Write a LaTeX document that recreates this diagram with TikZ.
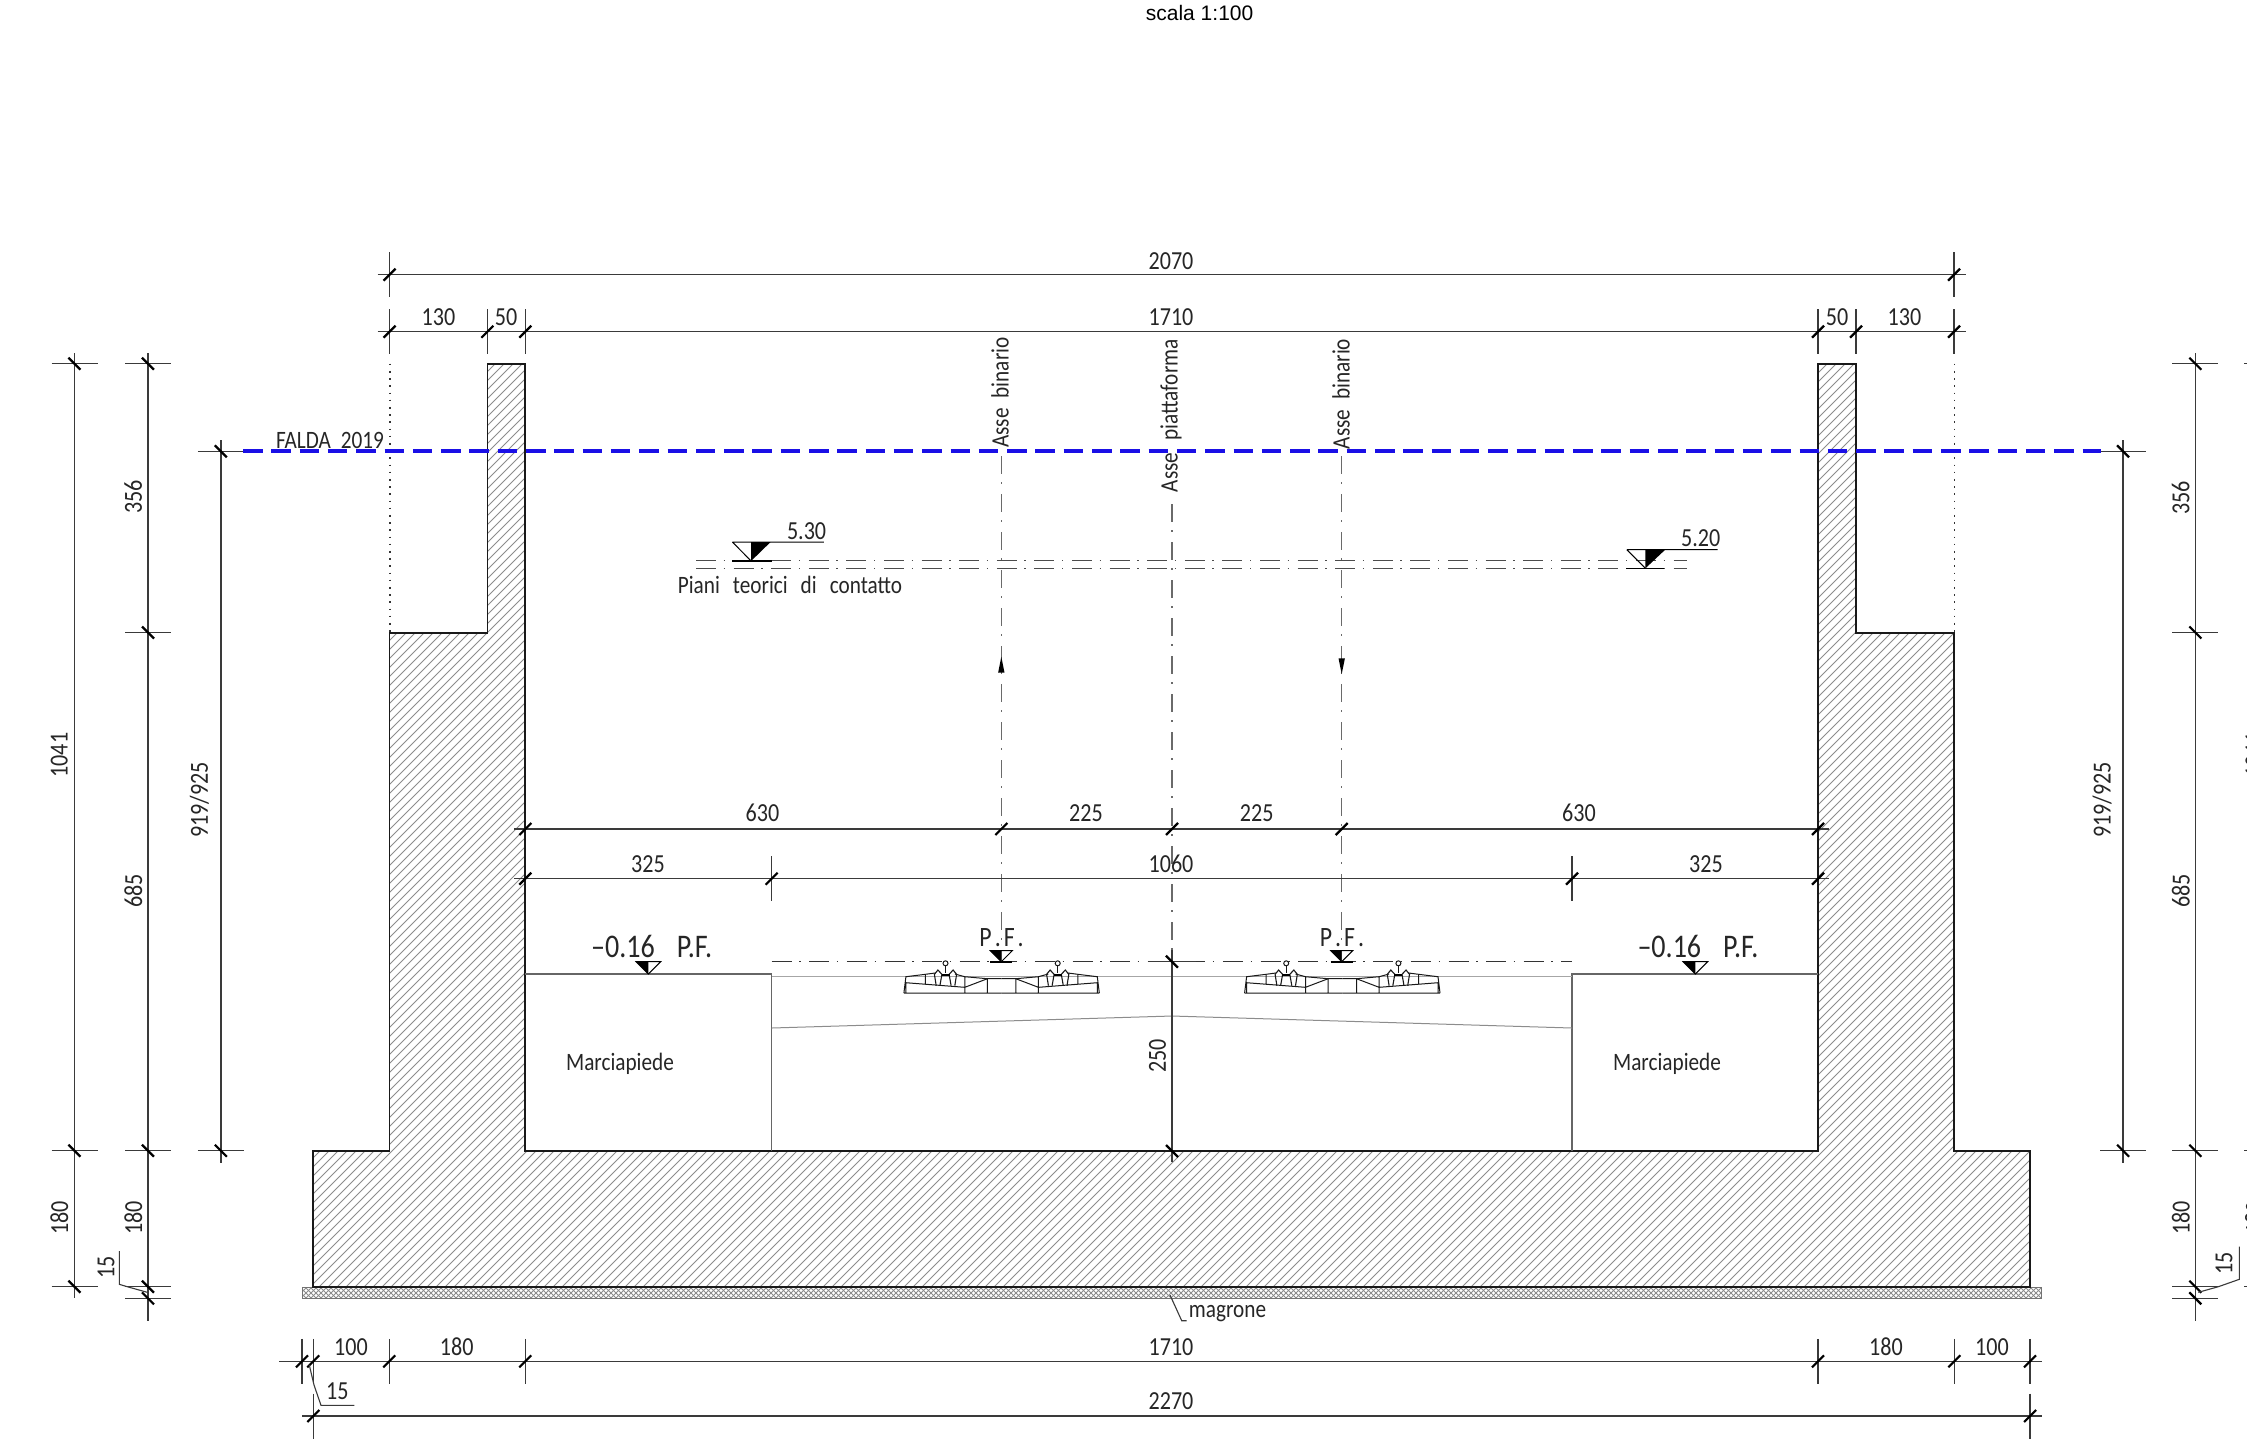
\documentclass[tikz,border=0pt]{standalone}
\usepackage{fontspec}
\setmainfont{Liberation Sans}
\newfontfamily\cad[FakeStretch=0.85]{Carlito}
\definecolor{dimc}{HTML}{3A3A3A}
\definecolor{axisc}{HTML}{6A6A6A}
\definecolor{hatchc}{HTML}{8C8C8C}
\definecolor{bluec}{HTML}{1A0FE6}
\tikzset{
  dimtxt/.style={inner sep=0pt,font=\cad\fontsize{13}{15}\selectfont,text=black!85},
  pftxt/.style={inner sep=0pt,font=\cad\fontsize{14}{15}\selectfont,text=black!85},
  bigtxt/.style={inner sep=0pt,font=\cad\fontsize{16.5}{18}\selectfont,text=black!85},
  smalltxt/.style={inner sep=0pt,font=\cad\fontsize{12.5}{15}\selectfont,text=black!85},
  dimline/.style={draw=dimc,line width=0.7pt},
  extline/.style={draw=dimc,line width=0.55pt},
  tickline/.style={draw=black,line width=1.1pt},
  outline/.style={draw=black!90,line width=0.9pt,line join=miter},
  axisline/.style={draw=axisc,line width=0.7pt,dash pattern=on 9pt off 4.2pt on 0.7pt off 5.1pt},
  planeline/.style={draw=black!70,line width=0.5pt,dash pattern=on 10pt off 3.8pt on 0.7pt off 4.3pt},
  railline/.style={draw=black!90,line width=0.5pt},
}
% horizontal dimension: tick plus extension
\newcommand\hdx[2]{\draw[extline] (#1,#2-22.5)--(#1,#2+22.5);\draw[tickline] (#1-6,#2+6)--(#1+6,#2-6);}
\newcommand\hdt[2]{\draw[tickline] (#1-6,#2+6)--(#1+6,#2-6);}
% vertical dimension: tick plus extension
\newcommand\vdx[2]{\draw[extline] (#1-23,#2)--(#1+23,#2);\draw[tickline] (#1-6,#2-6)--(#1+6,#2+6);}
\newcommand\pftext{P\hspace{1.5pt}.\hspace{1.5pt}F\hspace{1.5pt}.}
\newcommand\railhalf{%
  \draw[railline] (-97.7,0)--(-95.7,-16.3)--(-76.3,-18.7)--(-66.4,-20)
    (-46.7,-19)--(-36.8,-16.3)--(-14.2,-14.3)--(0,-14.3)
    (-95.7,-10.3)--(-36.8,-5.7)--(-14.2,-14.3)
    (-76.3,-18.7)--(-76.3,-8.7)
    (-36.8,-16.3)--(-36.8,0) (-14.2,-14.3)--(-14.2,0)
    (-95.7,-10.3)--(-95.7,0) (0,0)--(-97.7,0);
  \draw[railline] (-56.1,-29.7) circle (2.5);
  \draw[railline] (-56.1,-27)--(-56.1,-20);
  \draw[railline,line width=0.55pt] (-65.4,-7.3)--(-67.2,-18.7)--(-63.7,-23)--(-59.7,-18.7)--(-61.7,-7.3)
    (-46.8,-7.3)--(-45,-18.7)--(-48.5,-23)--(-52.5,-18.7)--(-50.5,-7.3);
  \draw[draw=black,line width=1pt] (-60,-18.5)--(-52,-18.5);
}
\newcommand\railpair[1]{%
  \begin{scope}[shift={(#1,993)}]\railhalf\end{scope}
  \begin{scope}[shift={(#1,993)},xscale=-1]\railhalf\end{scope}
}
\begin{document}
\begin{tikzpicture}[x=0.5pt,y=-0.5pt]
\useasboundingbox (0,0) rectangle (2247,1452);
\clip (0,0) rectangle (2247,1452);
\fill[white] (0,0) rectangle (2247,1452);

% hatching of the concrete section
\begin{scope}
  \clip (313.3,1286.7)--(313.3,1150.7)--(389.5,1150.7)--(389.5,633)--(487.4,633)--(487.4,363.7)--(525.3,363.7)--(525.3,1150.7)--(1818,1150.7)--(1818,363.7)--(1856,363.7)--(1856,633)--(1954,633)--(1954,1150.7)--(2030,1150.7)--(2030,1286.7)--cycle;
  \foreach \i in {-620,-611,...,2040}{\draw[hatchc,line width=0.4pt] (\i,1290)--(\i+930,360);}
\end{scope}
% magrone
\begin{scope}
  \clip (302,1287) rectangle (2041.5,1298.5);
  \foreach \i in {290,295,...,2050}{\draw[black!45,line width=0.4pt] (\i,1299)--(\i+12,1287) (\i,1287)--(\i+12,1299);}
\end{scope}
\draw[draw=black!55,line width=0.5pt] (302,1287) rectangle (2041.5,1298.5);

% section outline
\draw[outline] (313.3,1286.7)--(313.3,1150.7)--(389.5,1150.7)--(389.5,633)--(487.4,633)--(487.4,363.7)--(525.3,363.7)--(525.3,1150.7)--(1818,1150.7)--(1818,363.7)--(1856,363.7)--(1856,633)--(1954,633)--(1954,1150.7)--(2030,1150.7)--(2030,1286.7)--cycle;

% dotted outlines of upper stage
\draw[draw=black!80,line width=0.6pt,dash pattern=on 0.8pt off 2.8pt] (390,363.7)--(390,633);
\draw[draw=black!80,line width=0.6pt,dash pattern=on 0.8pt off 2.8pt] (1954.5,363.7)--(1954.5,633);

% pavements and slab lines
\draw[draw=black!60,line width=0.6pt] (525.3,974)--(771.7,974)--(771.7,1150.7);
\draw[draw=black!60,line width=0.6pt] (1818,974)--(1572,974)--(1572,1150.7);
\draw[draw=black!35,line width=0.5pt] (771.7,976.3)--(1572,976.3);
\draw[draw=black!45,line width=0.5pt] (771.7,1028)--(1172,1016)--(1572,1028);

% rails
\railpair{1001.6}
\railpair{1342.3}

% axes
\draw[axisline] (1001.3,456)--(1001.3,961);
\draw[axisline] (1341.7,456)--(1341.7,961);
\draw[axisline] (1172,504)--(1172,950);
\fill[black] (1001.3,656.7)--(1004.5,672.7)--(998.1,672.7)--cycle;
\fill[black] (1341.7,674)--(1344.9,658.3)--(1338.5,658.3)--cycle;

% theoretical planes
\draw[planeline] (696,560.7)--(1687,560.7);
\draw[planeline] (696,568.5)--(1687,568.5);
\draw[draw=black,line width=0.5pt] (732.4,542)--(823.8,542) (732.4,542)--(751.1,561);
\fill[black] (751.1,542)--(770.6,542)--(751.1,561)--cycle;
\draw[draw=black,line width=0.8pt] (732,561)--(772,561);
\draw[draw=black,line width=0.5pt] (1626.8,549.7)--(1717.6,549.7) (1626.8,549.7)--(1645.4,568.3);
\fill[black] (1645.4,549.7)--(1665.2,549.7)--(1645.4,568.3)--cycle;
\draw[draw=black,line width=0.8pt] (1626,568.5)--(1664,568.5);
\node[dimtxt] (lev530) at (806.6,531) {5.30};
\node[dimtxt] (lev520) at (1700.7,538.3) {5.20};
\node[smalltxt] (piani) at (790,585) {Piani\hspace{6.5pt}teorici\hspace{6.5pt}di\hspace{6.5pt}contatto};

% dimension chains, top
\draw[dimline] (377.5,274.7)--(1966,274.7);
\hdx{389.5}{274.7}\hdx{1954}{274.7}
\draw[dimline] (377.5,331.7)--(1966,331.7);
\hdx{389.5}{331.7}\hdx{487.4}{331.7}\hdx{525.3}{331.7}\hdx{1818}{331.7}\hdx{1856}{331.7}\hdx{1954}{331.7}
\node[dimtxt] (d2070) at (1171,261) {2070};
\node[dimtxt] (d130a) at (438.5,317) {130};
\node[dimtxt] (d50a) at (506,317) {50};
\node[dimtxt] (d1710a) at (1171,317) {1710};
\node[dimtxt] (d50b) at (1837,317) {50};
\node[dimtxt] (d130b) at (1904.5,317) {130};

% inner chains
\draw[dimline] (514,829)--(1829,829);
\hdt{525.3}{829}\hdt{1001.3}{829}\hdt{1172}{829}\hdt{1341.7}{829}\hdt{1818}{829}
\draw[dimline] (514,878.7)--(1829,878.7);
\hdt{525.3}{878.7}\hdx{771.7}{878.7}\hdx{1572}{878.7}\hdt{1818}{878.7}
\node[dimtxt] (d630a) at (762.4,813) {630};
\node[dimtxt] (d225a) at (1086,813) {225};
\node[dimtxt] (d225b) at (1256.7,813) {225};
\node[dimtxt] (d630b) at (1579,813) {630};
\node[dimtxt] (d325a) at (648,864) {325};
\node[dimtxt] (d1060) at (1171,864) {1060};
\node[dimtxt] (d325b) at (1706,864) {325};

% rail level line and marks
\draw[planeline,draw=black!80,line width=0.55pt] (771.7,961.7)--(1572,961.7);
\draw[dimline] (1148,961.7)--(1196,961.7);
\draw[dimline] (1172,950)--(1172,1162);
\draw[tickline] (1166,955.7)--(1178,967.7);
\draw[tickline] (1166,1145)--(1178,1157);
\node[dimtxt,rotate=90] (d250) at (1157.4,1056) {250};
\foreach \px in {1001.3,1341.7}{
  \draw[draw=black,line width=0.5pt] (\px-11,950.7)--(\px+11,950.7)--(\px,961.7)--cycle;
  \fill[black] (\px-11,950.7)--(\px,950.7)--(\px,961.7)--cycle;
  \draw[draw=black,line width=0.9pt] (\px-11,961.7)--(\px+11,961.7);
}
\node[pftxt] (pfa) at (1001.6,938) {\pftext};
\node[pftxt] (pfb) at (1342,938) {\pftext};
\foreach \px in {648.3,1695.3}{
  \draw[draw=black,line width=0.5pt] (\px-12.3,961.7)--(\px+12.3,961.7)--(\px,974)--cycle;
  \fill[black] (\px-12.3,961.7)--(\px,961.7)--(\px,974)--cycle;
}
\node[bigtxt] (lv1) at (651.7,946) {\textendash 0.16\hspace{11pt}P.F.};
\node[bigtxt] (lv2) at (1698,946) {\textendash 0.16\hspace{11pt}P.F.};
\node[smalltxt] (marc1) at (620,1063.5) {Marciapiede};
\node[smalltxt] (marc2) at (1667,1063.5) {Marciapiede};

% bottom chains
\draw[dimline] (279.3,1361.3)--(2041.7,1361.3);
\hdx{302}{1361.3}\hdx{313.3}{1361.3}\hdx{389.3}{1361.3}\hdx{525.3}{1361.3}\hdx{1818}{1361.3}\hdx{1954.3}{1361.3}\hdx{2030}{1361.3}
\draw[dimline] (302,1416)--(2041.7,1416);
\hdx{313.3}{1416}\hdx{2030}{1416}
\node[dimtxt] (b100a) at (351,1347) {100};
\node[dimtxt] (b180a) at (456.7,1347) {180};
\node[dimtxt] (b1710) at (1171,1347) {1710};
\node[dimtxt] (b180b) at (1886,1347) {180};
\node[dimtxt] (b100b) at (1992,1347) {100};
\node[dimtxt] (b2270) at (1171,1401.5) {2270};
\node[dimtxt] (b15) at (337.3,1390.7) {15};
\draw[extline] (309.3,1365)--(314,1385)--(321,1405.3)--(354.3,1405.3);

% magrone label
\draw[extline] (1170,1295)--(1181.7,1320.7)--(1186.7,1320.7);
\node[smalltxt] (magrone) at (1227.5,1313.5) {magrone};

% left vertical chains
\draw[dimline] (74.5,353)--(74.5,1298);
\vdx{74.5}{363.7}\vdx{74.5}{1150.7}\vdx{74.5}{1286.7}
\draw[dimline] (148,353)--(148,1321);
\vdx{148}{363.7}\vdx{148}{632.5}\vdx{148}{1150.7}\vdx{148}{1286.7}\vdx{148}{1298.3}
\draw[dimline] (220.8,440)--(220.8,1162.7);
\vdx{220.8}{451.3}\vdx{220.8}{1150.7}
\node[dimtxt,rotate=90] (l1041) at (59.3,755) {1041};
\node[dimtxt,rotate=90] (l180a) at (59.3,1218) {180};
\node[dimtxt,rotate=90] (l356) at (133.3,497) {356};
\node[dimtxt,rotate=90] (l685) at (133.3,891) {685};
\node[dimtxt,rotate=90] (l180b) at (133.3,1218) {180};
\node[dimtxt,rotate=90] (l919) at (199.5,800) {919/925};
\node[dimtxt,rotate=90] (l15) at (106,1267) {15};
\draw[extline] (119.3,1251)--(119.3,1284.3)--(127.3,1286.7)--(147.3,1292.3);

% right vertical chains
\draw[dimline] (2123,440)--(2123,1162.7);
\vdx{2123}{451.3}\vdx{2123}{1150.7}
\draw[dimline] (2195.3,353)--(2195.3,1321);
\vdx{2195.3}{363.7}\vdx{2195.3}{632.5}\vdx{2195.3}{1150.7}\vdx{2195.3}{1286.7}\vdx{2195.3}{1298.3}
\draw[extline] (2244,363.7)--(2247,363.7) (2244,1150.7)--(2247,1150.7) (2244,1286.7)--(2247,1286.7);
\node[dimtxt,rotate=90] (r919) at (2102,800) {919/925};
\node[dimtxt,rotate=90] (r356) at (2180.7,498) {356};
\node[dimtxt,rotate=90] (r685) at (2180.7,891) {685};
\node[dimtxt,rotate=90] (r180) at (2180.7,1218) {180};
\node[dimtxt,rotate=90] (r15) at (2224,1263) {15};
\node[dimtxt,rotate=90] (r1041) at (2254,755) {1041};
\node[dimtxt,rotate=90] (r180b) at (2254,1218) {180};
\draw[extline] (2239.3,1246.7)--(2239.3,1279.3)--(2218.3,1286.7)--(2198.3,1292.3);

% water table
\draw[draw=bluec,line width=2pt,dash pattern=on 9.75pt off 4.4pt] (243,451.3)--(2101,451.3);
\node[smalltxt] (falda) at (330,440) {FALDA\hspace{5pt}2019};

% axis captions
\node[smalltxt,rotate=90] (asse1) at (1000,392.5) {Asse\hspace{5pt}binario};
\node[smalltxt,rotate=90] (asse2) at (1171,415.7) {Asse\hspace{6pt}piattaforma};
\node[smalltxt,rotate=90] (asse3) at (1341,394) {Asse\hspace{5pt}binario};

% title
\node[inner sep=0pt,font=\fontsize{10.5}{12}\selectfont] (titolo) at (1199.6,13) {scala 1:100};
\end{tikzpicture}
\end{document}
